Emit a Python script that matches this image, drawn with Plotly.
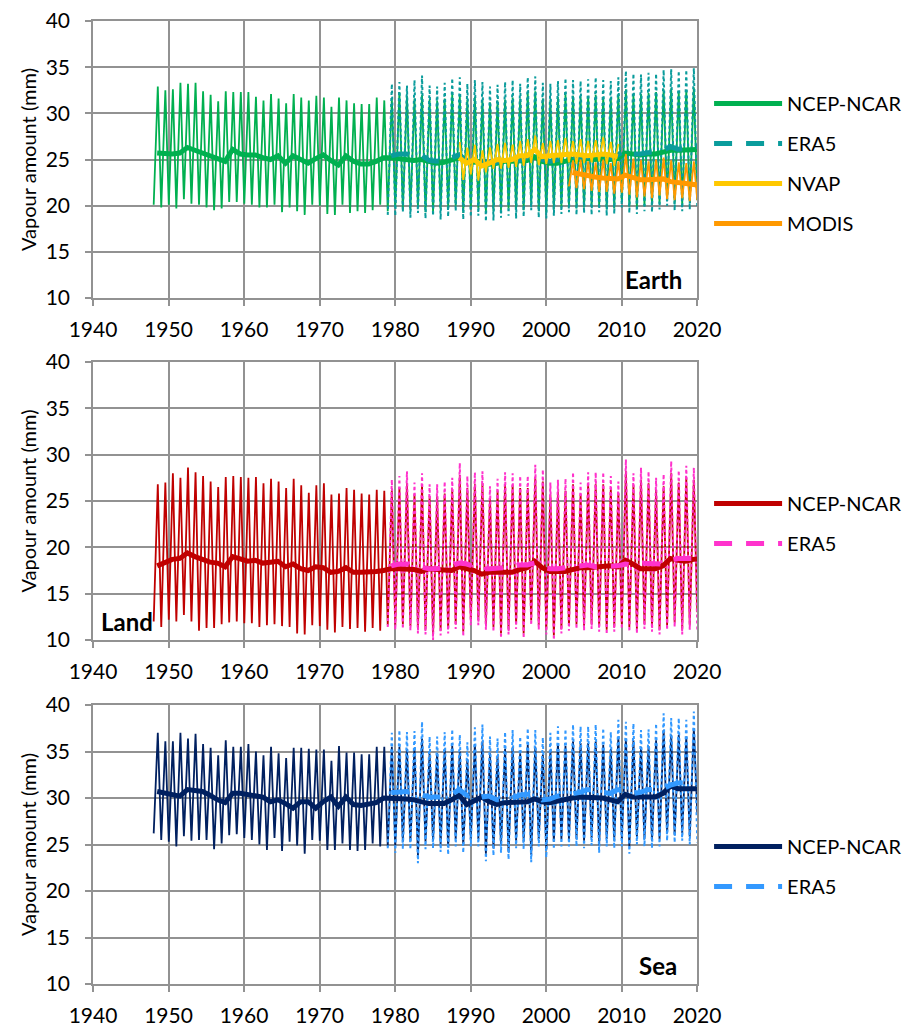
import pandas as pd
import plotly.graph_objects as go
from plotly.subplots import make_subplots

# Values (mm). Monthly curves are kept as their seasonal
# extremes: the January trough and the August peak of each year.
# Annual means are plotted at mid-year.

# --- Earth ---
EARTH_NCEP_TROUGH = [  # 1948-2020
    20.1, 19.8, 20.1, 19.7, 20.7, 20.2, 20.1, 19.8, 19.5, 19.7,
    20.4, 20.4, 20.2, 20.1, 19.8, 19.8, 20.1, 19.3, 19.8, 19.4,
    19.0, 20.1, 20.0, 19.1, 19.0, 20.1, 19.2, 19.4, 19.2, 19.5,
    20.1, 19.4, 19.8, 19.6, 19.5, 19.9, 19.3, 19.4, 19.6, 19.8,
    20.0, 19.2, 19.6, 19.7, 19.3, 19.4, 19.5, 19.7, 19.6, 19.5,
    20.1, 19.4, 19.3, 19.6, 19.8, 19.9, 19.7, 19.8, 19.9, 20.0,
    19.6, 19.7, 20.4, 19.9, 19.8, 20.0, 20.1, 20.2, 20.6, 20.2,
    20.1, 20.3, 20.6]
EARTH_NCEP_PEAK = [  # 1948-2019
    32.9, 32.5, 32.6, 33.3, 33.2, 33.3, 32.4, 32.0, 31.3, 32.4,
    32.3, 32.3, 32.3, 31.8, 31.4, 32.1, 31.6, 31.1, 32.1, 31.7,
    31.4, 31.9, 31.7, 30.7, 31.7, 31.4, 31.1, 31.0, 31.0, 31.7,
    31.4, 31.6, 32.3, 31.9, 31.6, 32.0, 31.5, 31.4, 31.6, 32.1,
    31.9, 31.5, 31.8, 31.5, 31.2, 31.4, 31.5, 31.7, 31.6, 32.2,
    32.4, 31.6, 31.5, 31.8, 32.0, 31.9, 31.8, 31.9, 32.0, 31.8,
    31.7, 32.1, 32.6, 32.0, 32.1, 32.2, 32.3, 32.6, 32.7, 32.4,
    32.5, 32.8]
EARTH_NCEP_ANNUAL = [  # 1948-2020
    25.7, 25.6, 25.6, 25.7, 26.3, 26.0, 25.7, 25.3, 25.0, 24.8,
    26.1, 25.6, 25.5, 25.5, 25.2, 25.0, 25.4, 24.6, 25.4, 25.0,
    24.6, 25.1, 25.5, 24.9, 24.4, 25.4, 24.8, 24.5, 24.5, 24.8,
    25.2, 25.2, 25.1, 25.1, 24.9, 25.0, 24.8, 24.6, 24.7, 24.9,
    25.2, 24.8, 24.7, 24.8, 24.5, 24.6, 24.8, 24.8, 24.8, 24.9,
    25.3, 24.8, 24.6, 24.6, 24.8, 25.0, 25.0, 25.1, 25.0, 25.1,
    25.0, 25.1, 25.7, 25.6, 25.5, 25.6, 25.6, 25.8, 26.0, 26.0,
    26.0, 26.1, 26.1]
EARTH_ERA5_TROUGH = [  # 1979-2020
    19.0, 18.9, 19.3, 18.7, 19.2, 18.6, 18.9, 18.5, 18.8, 19.4,
    18.5, 18.8, 18.9, 18.3, 18.4, 18.7, 18.9, 18.6, 18.8, 19.5,
    18.7, 18.6, 18.9, 19.1, 19.3, 19.0, 19.2, 19.0, 19.3, 18.9,
    19.1, 19.8, 19.2, 19.1, 19.4, 19.3, 19.6, 20.0, 19.5, 19.4,
    19.6, 19.9]
EARTH_ERA5_PEAK = [  # 1979-2019
    33.2, 33.4, 33.0, 33.6, 34.1, 33.0, 32.9, 33.3, 33.8, 33.9,
    33.2, 33.6, 33.4, 32.9, 33.1, 33.4, 33.6, 33.2, 33.9, 34.0,
    33.3, 33.2, 33.5, 33.8, 33.6, 33.5, 33.7, 33.9, 33.6, 33.5,
    33.9, 34.6, 34.3, 34.2, 34.4, 34.3, 34.7, 34.8, 34.6, 34.7,
    34.9]
EARTH_ERA5_ANNUAL = [  # 1979-2020
    25.4, 25.6, 25.6, 25.4, 25.5, 24.9, 24.8, 24.9, 25.2, 25.5,
    24.9, 25.0, 24.9, 24.6, 24.7, 24.9, 25.1, 24.9, 25.2, 25.6,
    25.0, 24.8, 25.0, 25.2, 25.3, 25.2, 25.3, 25.3, 25.4, 25.2,
    25.5, 26.0, 25.6, 25.6, 25.7, 25.8, 26.0, 26.4, 26.1, 26.2,
    26.4, 26.4]
NVAP_TROUGH = [  # 1989-2009
    22.8, 23.4, 22.7, 23.6, 24.0, 24.0, 24.1, 24.2, 24.3, 24.6,
    24.4, 24.5, 24.6, 24.6, 24.7, 24.5, 24.6, 24.7, 24.8, 24.5,
    24.3]
NVAP_PEAK = [  # 1988-2009
    26.9, 26.3, 26.6, 26.0, 26.3, 26.7, 26.8, 26.6, 27.0, 27.2,
    27.6, 26.8, 27.0, 27.1, 27.3, 27.0, 27.2, 27.0, 27.1, 27.4,
    26.9, 26.7]
NVAP_ANNUAL = [  # 1988-2009
    25.2, 24.6, 25.0, 24.3, 24.6, 25.0, 24.9, 25.0, 25.4, 25.4,
    26.1, 25.3, 25.4, 25.5, 25.5, 25.6, 25.5, 25.4, 25.5, 25.6,
    25.5, 25.3]
MODIS_TROUGH = [  # 2003-2020
    22.1, 21.9, 21.8, 21.6, 21.5, 21.5, 21.3, 21.4, 21.2, 20.9,
    21.0, 20.8, 21.1, 20.7, 20.6, 20.8, 20.5, 20.6]
MODIS_PEAK = [  # 2003-2019
    24.9, 25.0, 24.8, 24.7, 25.0, 24.6, 24.8, 25.6, 25.1, 24.9,
    24.8, 25.0, 25.2, 24.9, 24.7, 24.6, 24.8]
MODIS_ANNUAL = [  # 2003-2020
    23.6, 23.4, 23.3, 23.1, 23.0, 22.9, 22.9, 23.3, 23.0, 22.8,
    22.8, 22.8, 22.9, 22.6, 22.5, 22.4, 22.3, 22.2]

# --- Land ---
LAND_NCEP_TROUGH = [  # 1948-2020
    12.0, 11.4, 12.2, 12.0, 12.7, 12.0, 11.0, 11.3, 11.3, 11.7,
    11.9, 12.0, 11.8, 11.8, 11.4, 11.6, 11.7, 11.5, 11.4, 10.7,
    10.6, 11.6, 11.5, 11.1, 10.8, 11.4, 11.2, 11.3, 10.9, 11.3,
    11.0, 11.6, 11.6, 11.7, 11.5, 11.2, 11.1, 10.5, 11.0, 11.2,
    11.7, 10.9, 12.1, 12.1, 11.6, 11.4, 10.7, 11.1, 11.7, 10.7,
    12.1, 11.6, 11.1, 10.5, 11.2, 11.5, 11.7, 11.5, 11.7, 11.4,
    11.1, 11.4, 11.7, 11.4, 11.2, 11.7, 11.4, 11.1, 11.6, 11.9,
    11.1, 11.6, 13.0]
LAND_NCEP_PEAK = [  # 1948-2019
    26.8, 27.0, 28.0, 27.5, 28.6, 28.1, 27.7, 27.1, 26.5, 27.6,
    27.7, 27.6, 27.5, 27.6, 26.9, 27.4, 27.1, 26.4, 27.4, 26.7,
    25.9, 26.7, 26.9, 25.7, 25.8, 26.4, 26.2, 25.8, 25.7, 26.2,
    26.1, 26.2, 26.4, 26.9, 25.7, 26.7, 25.5, 25.5, 25.8, 26.2,
    27.8, 26.4, 26.8, 26.9, 25.3, 26.1, 26.8, 26.7, 26.4, 26.4,
    27.6, 27.1, 25.7, 26.0, 26.1, 26.8, 25.7, 26.8, 26.8, 26.8,
    26.4, 25.8, 28.2, 26.7, 27.3, 26.9, 26.2, 26.6, 28.0, 27.0,
    27.5, 27.3]
LAND_NCEP_ANNUAL = [  # 1948-2020
    18.0, 18.3, 18.7, 18.8, 19.4, 19.0, 18.7, 18.4, 18.3, 17.9,
    19.0, 18.7, 18.5, 18.6, 18.3, 18.4, 18.5, 17.9, 18.2, 17.7,
    17.5, 17.9, 17.8, 17.3, 17.4, 17.8, 17.3, 17.3, 17.3, 17.4,
    17.5, 17.7, 17.7, 17.7, 17.6, 17.4, 17.7, 17.6, 17.5, 17.5,
    17.9, 17.7, 17.5, 17.1, 17.3, 17.3, 17.3, 17.3, 17.6, 17.8,
    18.5, 17.8, 17.4, 17.4, 17.4, 17.6, 17.8, 17.8, 17.9, 17.9,
    18.0, 17.9, 18.6, 18.2, 17.7, 17.7, 17.7, 18.0, 18.8, 18.6,
    18.5, 18.7, 18.8]
LAND_ERA5_TROUGH = [  # 1979-2020
    11.4, 11.1, 11.2, 11.0, 10.7, 10.6, 10.0, 10.5, 10.7, 11.2,
    10.4, 11.6, 11.6, 11.1, 10.9, 10.2, 10.6, 11.2, 10.2, 11.6,
    11.1, 10.6, 10.0, 10.7, 11.0, 11.2, 11.0, 11.2, 10.9, 10.6,
    10.9, 11.2, 10.9, 10.7, 11.2, 10.9, 10.6, 11.1, 11.4, 10.6,
    11.1, 11.0]
LAND_ERA5_PEAK = [  # 1979-2019
    27.3, 27.7, 28.2, 27.0, 28.0, 26.8, 26.8, 27.1, 27.5, 29.1,
    27.7, 28.1, 28.2, 26.6, 27.4, 28.1, 28.0, 27.7, 27.7, 28.9,
    28.4, 27.0, 27.3, 27.4, 28.1, 27.0, 28.1, 28.1, 28.1, 27.7,
    27.1, 29.5, 28.0, 28.6, 28.2, 27.5, 27.9, 29.3, 28.3, 28.8,
    28.6]
LAND_ERA5_ANNUAL = [  # 1979-2020
    18.0, 18.2, 18.2, 18.0, 17.8, 17.7, 17.7, 17.8, 18.0, 18.3,
    18.2, 17.9, 17.7, 17.7, 17.7, 17.8, 17.9, 18.1, 18.1, 18.3,
    17.9, 17.7, 17.7, 17.8, 17.9, 18.1, 18.1, 17.9, 17.9, 18.0,
    18.0, 18.2, 18.1, 18.3, 18.3, 18.3, 18.2, 18.6, 18.8, 18.8,
    18.8, 18.8]

# --- Sea ---
SEA_NCEP_TROUGH = [  # 1948-2020
    26.2, 25.5, 25.3, 24.8, 25.9, 25.4, 25.5, 25.5, 24.5, 25.1,
    26.0, 26.1, 25.7, 25.5, 25.0, 24.4, 25.7, 24.3, 25.3, 24.9,
    24.0, 25.5, 25.4, 24.4, 24.4, 25.1, 24.4, 24.3, 24.4, 25.1,
    24.8, 24.8, 24.9, 25.3, 25.3, 23.8, 25.3, 25.4, 25.0, 24.7,
    25.6, 24.9, 25.6, 25.6, 24.0, 24.6, 24.9, 24.2, 25.4, 25.3,
    23.9, 25.6, 24.4, 25.3, 25.6, 25.6, 25.6, 25.4, 25.7, 24.9,
    25.6, 25.4, 25.6, 24.8, 25.8, 25.6, 25.4, 25.6, 26.2, 26.0,
    26.2, 25.8, 28.4]
SEA_NCEP_PEAK = [  # 1948-2019
    37.0, 36.1, 36.1, 37.0, 36.4, 36.9, 35.8, 35.4, 34.6, 36.2,
    35.5, 35.5, 35.8, 35.0, 34.6, 35.5, 34.8, 34.3, 35.4, 35.4,
    35.3, 35.2, 35.2, 34.0, 35.6, 34.9, 34.9, 34.7, 34.7, 35.5,
    35.5, 35.5, 35.5, 35.3, 35.4, 36.4, 34.8, 34.8, 35.3, 35.6,
    35.0, 34.2, 35.8, 36.1, 34.8, 34.6, 35.3, 35.5, 34.8, 35.7,
    35.5, 34.7, 35.2, 35.9, 35.6, 36.1, 35.9, 35.9, 36.1, 35.7,
    35.3, 36.6, 36.4, 36.2, 35.5, 35.6, 36.2, 37.3, 36.8, 36.8,
    36.6, 37.5]
SEA_NCEP_ANNUAL = [  # 1948-2020
    30.7, 30.5, 30.3, 30.2, 30.9, 30.8, 30.7, 30.3, 29.8, 29.5,
    30.5, 30.5, 30.4, 30.2, 30.1, 29.6, 29.8, 29.4, 28.9, 29.6,
    29.6, 28.9, 29.6, 30.1, 29.1, 30.1, 29.3, 29.2, 29.4, 29.5,
    30.0, 30.0, 30.0, 29.9, 29.8, 29.6, 29.4, 29.4, 29.4, 29.8,
    30.3, 29.3, 29.7, 30.1, 29.6, 29.3, 29.5, 29.5, 29.5, 29.6,
    29.9, 29.6, 29.5, 29.7, 29.9, 30.0, 30.1, 30.1, 30.1, 30.0,
    29.8, 29.6, 30.4, 30.1, 30.1, 30.1, 30.1, 30.5, 31.3, 31.0,
    31.0, 30.9, 31.0]
SEA_ERA5_TROUGH = [  # 1979-2020
    24.6, 24.1, 24.5, 24.5, 23.0, 24.5, 24.6, 24.2, 23.9, 24.8,
    24.1, 24.8, 24.8, 23.2, 23.8, 24.1, 23.4, 24.6, 24.5, 23.1,
    24.8, 23.6, 24.5, 24.8, 24.8, 24.8, 24.6, 24.9, 24.1, 24.8,
    24.6, 24.8, 24.0, 25.0, 24.8, 24.6, 24.8, 25.4, 25.2, 25.4,
    25.0, 25.2]
SEA_ERA5_PEAK = [  # 1979-2019
    37.0, 37.3, 37.1, 37.2, 38.2, 36.6, 36.6, 37.1, 37.4, 36.8,
    36.0, 37.6, 37.9, 36.6, 36.4, 37.1, 37.3, 36.6, 37.5, 37.3,
    36.5, 37.0, 37.7, 37.4, 37.9, 37.7, 37.7, 37.9, 37.5, 37.1,
    38.4, 38.2, 38.0, 37.3, 37.4, 38.0, 39.1, 38.6, 38.6, 38.4,
    39.3]
SEA_ERA5_ANNUAL = [  # 1979-2020
    30.6, 30.7, 30.7, 30.6, 30.4, 30.1, 30.1, 30.1, 30.4, 30.9,
    30.3, 29.9, 30.1, 30.2, 29.8, 29.8, 30.0, 30.3, 30.4, 30.4,
    29.8, 29.9, 30.2, 30.3, 30.5, 30.6, 30.9, 30.9, 30.6, 30.5,
    30.9, 30.9, 30.5, 30.6, 30.9, 30.9, 31.0, 31.4, 31.6, 31.6,
    31.5, 31.4]

FONT = "Lato, Calibri, sans-serif"
GRID = "#929292"


def seasonal(trough_start, troughs, peak_start, peaks):
    """Merge January troughs and August peaks into one date-sorted series."""
    rows = [(pd.Timestamp(trough_start + i, 1, 15), v) for i, v in enumerate(troughs)]
    rows += [(pd.Timestamp(peak_start + i, 8, 1), v) for i, v in enumerate(peaks)]
    return pd.DataFrame(rows, columns=["date", "value"]).sort_values("date")


def annual(start, values):
    dates = [pd.Timestamp(start + i, 7, 1) for i in range(len(values))]
    return pd.DataFrame({"date": dates, "value": values})


def series(name, color, kind, monthly, yearly, dashed=False):
    return dict(name=name, color=color, kind=kind, monthly=monthly,
                annual=yearly, dashed=dashed)


PANELS = [
    dict(label="Earth", label_pos=(0.978, "right"), series=[
        series("NCEP-NCAR", "#00B050", "reanalysis",
               seasonal(1948, EARTH_NCEP_TROUGH, 1948, EARTH_NCEP_PEAK),
               annual(1948, EARTH_NCEP_ANNUAL)),
        series("ERA5", "#0A9C9C", "reanalysis",
               seasonal(1979, EARTH_ERA5_TROUGH, 1979, EARTH_ERA5_PEAK),
               annual(1979, EARTH_ERA5_ANNUAL), dashed=True),
        series("NVAP", "#FFC800", "satellite",
               seasonal(1989, NVAP_TROUGH, 1988, NVAP_PEAK),
               annual(1988, NVAP_ANNUAL)),
        series("MODIS", "#FF9900", "satellite",
               seasonal(2003, MODIS_TROUGH, 2003, MODIS_PEAK),
               annual(2003, MODIS_ANNUAL)),
    ]),
    dict(label="Land", label_pos=(0.01, "left"), series=[
        series("NCEP-NCAR", "#C00000", "reanalysis",
               seasonal(1948, LAND_NCEP_TROUGH, 1948, LAND_NCEP_PEAK),
               annual(1948, LAND_NCEP_ANNUAL)),
        series("ERA5", "#FF33CC", "reanalysis",
               seasonal(1979, LAND_ERA5_TROUGH, 1979, LAND_ERA5_PEAK),
               annual(1979, LAND_ERA5_ANNUAL), dashed=True),
    ]),
    dict(label="Sea", label_pos=(0.97, "right"), series=[
        series("NCEP-NCAR", "#002060", "reanalysis",
               seasonal(1948, SEA_NCEP_TROUGH, 1948, SEA_NCEP_PEAK),
               annual(1948, SEA_NCEP_ANNUAL)),
        series("ERA5", "#3399FF", "reanalysis",
               seasonal(1979, SEA_ERA5_TROUGH, 1979, SEA_ERA5_PEAK),
               annual(1979, SEA_ERA5_ANNUAL), dashed=True),
    ]),
]

# The viewer page keeps an 8px body margin, so the figure is sized to the
# window minus that offset. Pixel positions below are window coordinates.
PAGE_OFFSET = 8
WIN_W, WIN_H = 910, 1030
PLOT_LEFT, PLOT_RIGHT, PLOT_TOP, PLOT_BOTTOM = 93, 697, 21, 984
PANEL_PX = [(21, 298), (362, 640), (705, 984)]
LEGEND_TOP_PX = [84, 484, 827]

FIG_W, FIG_H = WIN_W - PAGE_OFFSET, WIN_H - PAGE_OFFSET
margin = dict(l=PLOT_LEFT - PAGE_OFFSET, r=WIN_W - PLOT_RIGHT,
              t=PLOT_TOP - PAGE_OFFSET, b=WIN_H - PLOT_BOTTOM, autoexpand=False)
plot_h = PLOT_BOTTOM - PLOT_TOP

fig = make_subplots(rows=3, cols=1)

for row, panel in enumerate(PANELS, start=1):
    legend_id = "legend" if row == 1 else f"legend{row}"
    back = [s for s in panel["series"] if s["kind"] == "reanalysis"]
    front = [s for s in panel["series"] if s["kind"] == "satellite"]
    order = [(s, "monthly") for s in back] + [(s, "annual") for s in back]
    for s in front:
        order += [(s, "monthly"), (s, "annual")]

    for s, part in order:
        df = s[part]
        if part == "monthly":
            line = dict(color=s["color"], width=2 if s["dashed"] else 1.8,
                        dash="dot" if s["dashed"] else "solid")
        else:
            line = dict(color=s["color"], width=5,
                        dash="18px,14px" if s["dashed"] else "solid")
        fig.add_trace(go.Scatter(
            x=df["date"], y=df["value"], mode="lines", name=s["name"],
            line=line, legendgroup=f"{row}-{s['name']}",
            showlegend=(part == "annual"), legend=legend_id,
            hoverinfo="skip" if part == "monthly" else None,
        ), row=row, col=1)

    top, bot = PANEL_PX[row - 1]
    ydom = [(PLOT_BOTTOM - bot) / plot_h, (PLOT_BOTTOM - top) / plot_h]
    suffix = "" if row == 1 else str(row)
    fig.layout[f"yaxis{suffix}"].domain = ydom

    fig.update_layout({legend_id: dict(
        x=1.02, xanchor="left",
        y=(PLOT_BOTTOM - LEGEND_TOP_PX[row - 1]) / plot_h, yanchor="top",
        font=dict(family=FONT, size=20, color="#000"),
        itemwidth=68, traceorder="grouped", tracegroupgap=11,
        bgcolor="rgba(0,0,0,0)",
    )})

    lx, anchor = panel["label_pos"]
    fig.add_annotation(
        text=f"<b>{panel['label']}</b>", x=lx, y=0.065, xanchor=anchor,
        yanchor="middle", xref=f"x{suffix} domain", yref=f"y{suffix} domain",
        showarrow=False, font=dict(family=FONT, size=24, color="#000"),
    )

fig.update_xaxes(
    type="date", range=["1940-01-01", "2020-01-01"],
    tick0="1940-01-01", dtick="M120", tickformat="%Y",
    showgrid=True, gridcolor=GRID, gridwidth=1.5,
    showline=True, linecolor=GRID, linewidth=1.5, mirror=True,
    ticks="outside", ticklen=6, tickcolor=GRID, tickwidth=1.5,
    ticklabelstandoff=6, automargin=False, ticklabeloverflow="allow",
    tickfont=dict(family=FONT, size=21, color="#000"), zeroline=False,
)
fig.update_yaxes(
    range=[10, 40], dtick=5, tick0=10,
    showgrid=True, gridcolor=GRID, gridwidth=1.5,
    showline=True, linecolor=GRID, linewidth=1.5, mirror=True,
    ticks="outside", ticklen=6, tickcolor=GRID, tickwidth=1.5,
    ticklabelstandoff=11, automargin=False, ticklabeloverflow="allow",
    tickfont=dict(family=FONT, size=21, color="#000"), zeroline=False,
    title=dict(text="Vapour amount (mm)", standoff=4,
               font=dict(family=FONT, size=20, color="#000")),
)

fig.update_layout(
    width=FIG_W, height=FIG_H, margin=margin,
    plot_bgcolor="white", paper_bgcolor="white",
    font=dict(family=FONT, color="#000"),
)

fig.write_html("out.html")
